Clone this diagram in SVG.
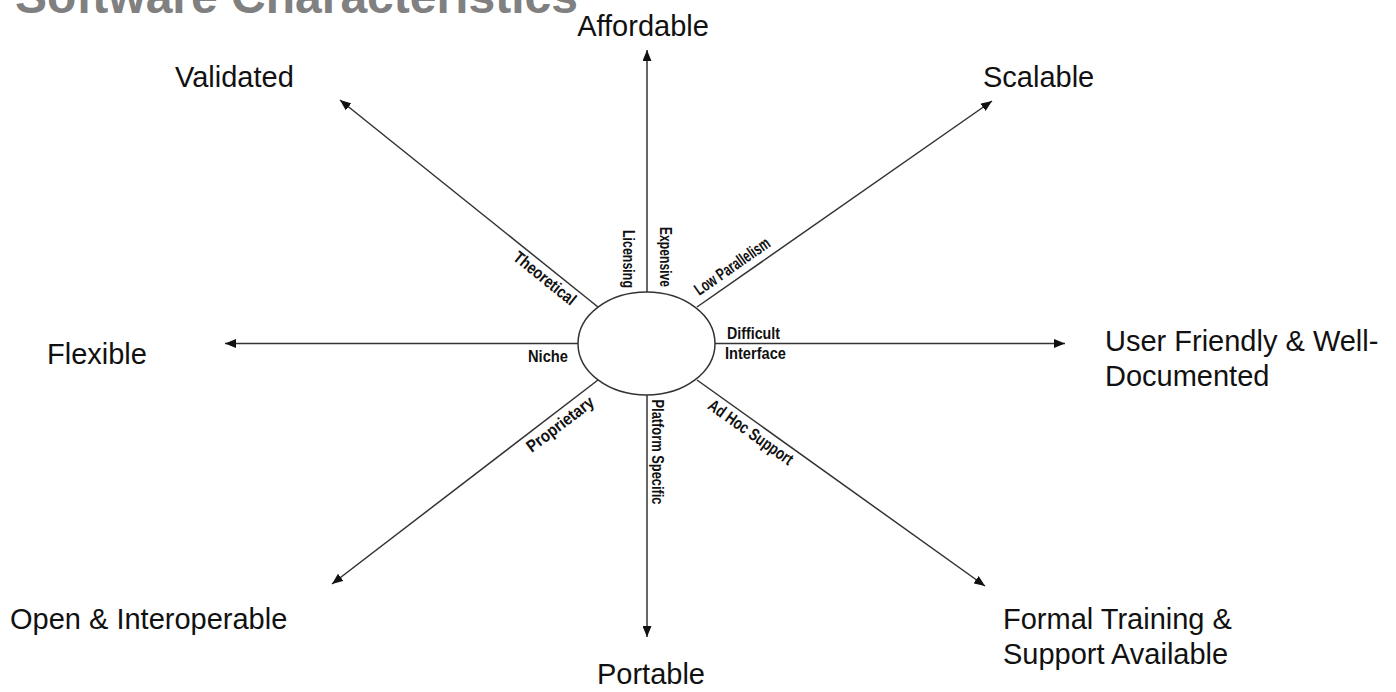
<svg xmlns="http://www.w3.org/2000/svg" width="1396" height="692" viewBox="0 0 1396 692">
<style>
.big{font-family:"Liberation Sans",Arial,sans-serif;font-size:29px;fill:#111}
.title{font-family:"Liberation Sans",Arial,sans-serif;font-size:48px;font-weight:bold;fill:#808080}
.sm{font-family:"Liberation Sans Narrow","Liberation Sans",Arial,sans-serif;font-size:17px;font-weight:bold;fill:#111}
.ln{stroke:#333;stroke-width:1.5;fill:none}
</style>
<defs>
<marker id="ah" markerUnits="userSpaceOnUse" markerWidth="11" markerHeight="9" refX="11" refY="4.5" orient="auto" viewBox="0 0 11 9">
<path d="M0,0 L11,4.5 L0,9 z" fill="#111"/>
</marker>
</defs>
<rect width="1396" height="692" fill="#fff"/>
<text class="title" x="15" y="13">Software Characteristics</text>
<g id="connectors">
<line class="ln" x1="647" y1="292" x2="647" y2="50" marker-end="url(#ah)"/>
<line class="ln" x1="647" y1="395" x2="647" y2="637" marker-end="url(#ah)"/>
<line class="ln" x1="578" y1="343.5" x2="225" y2="343.5" marker-end="url(#ah)"/>
<line class="ln" x1="715" y1="343.5" x2="1065" y2="343.5" marker-end="url(#ah)"/>
<line class="ln" x1="598" y1="307" x2="340" y2="100" marker-end="url(#ah)"/>
<line class="ln" x1="697" y1="307" x2="992" y2="101" marker-end="url(#ah)"/>
<line class="ln" x1="598" y1="380" x2="332" y2="584" marker-end="url(#ah)"/>
<line class="ln" x1="697" y1="380" x2="985" y2="586" marker-end="url(#ah)"/>
</g>
<g id="center">
<ellipse cx="646.5" cy="343.5" rx="68.5" ry="51.5" fill="#fff" stroke="#333" stroke-width="1.5"/>
</g>
<g id="labels-inner">
<text class="sm" x="528" y="362" textLength="40" lengthAdjust="spacingAndGlyphs">Niche</text>
<text class="sm" x="727" y="339" textLength="53" lengthAdjust="spacingAndGlyphs">Difficult</text>
<text class="sm" x="725" y="359" textLength="61" lengthAdjust="spacingAndGlyphs">Interface</text>
<text class="sm" transform="translate(545,278) rotate(38.7)" text-anchor="middle" y="6" textLength="75" lengthAdjust="spacingAndGlyphs">Theoretical</text>
<text class="sm" transform="translate(629,259) rotate(90)" text-anchor="middle" y="6" textLength="58" lengthAdjust="spacingAndGlyphs">Licensing</text>
<text class="sm" transform="translate(666,257) rotate(90)" text-anchor="middle" y="6" textLength="60" lengthAdjust="spacingAndGlyphs">Expensive</text>
<text class="sm" transform="translate(732,266) rotate(-34.9)" text-anchor="middle" y="6" textLength="88" lengthAdjust="spacingAndGlyphs">Low Parallelism</text>
<text class="sm" transform="translate(560,424) rotate(-37.3)" text-anchor="middle" y="6" textLength="80" lengthAdjust="spacingAndGlyphs">Proprietary</text>
<text class="sm" transform="translate(658,452) rotate(90)" text-anchor="middle" y="6" textLength="105" lengthAdjust="spacingAndGlyphs">Platform Specific</text>
<text class="sm" transform="translate(751,432) rotate(35.4)" text-anchor="middle" y="6" textLength="100" lengthAdjust="spacingAndGlyphs">Ad Hoc Support</text>
</g>
<g id="n-affordable"><text class="big" x="643" y="36" text-anchor="middle">Affordable</text></g>
<g id="n-validated"><text class="big" x="175" y="87">Validated</text></g>
<g id="n-scalable"><text class="big" x="983" y="87">Scalable</text></g>
<g id="n-flexible"><text class="big" x="47" y="364">Flexible</text></g>
<g id="n-userfriendly"><text class="big" x="1105" y="351">User Friendly &amp; Well-</text><text class="big" x="1105" y="386">Documented</text></g>
<g id="n-open"><text class="big" x="10" y="629">Open &amp; Interoperable</text></g>
<g id="n-portable"><text class="big" x="651" y="684" text-anchor="middle">Portable</text></g>
<g id="n-formal"><text class="big" x="1003" y="629">Formal Training &amp;</text><text class="big" x="1003" y="664">Support Available</text></g>
</svg>
